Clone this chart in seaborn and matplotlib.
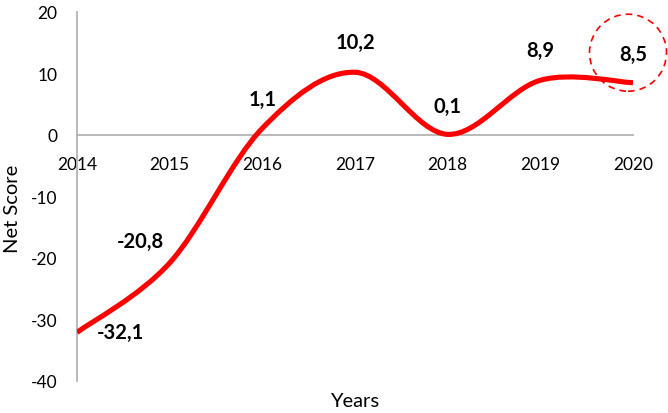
import numpy as np
import matplotlib
matplotlib.use("Agg")
import matplotlib.pyplot as plt
import matplotlib.transforms as mtransforms
from matplotlib.path import Path
from matplotlib.patches import PathPatch, Circle
import seaborn as sns

# data
years = [2014, 2015, 2016, 2017, 2018, 2019, 2020]
scores = [-32.1, -20.8, 1.1, 10.2, 0.1, 8.9, 8.5]
labels = ["-32,1", "-20,8", "1,1", "10,2", "0,1", "8,9", "8,5"]
# label offsets in points (dx, dy) from each point
offsets = [(31, 0), (-21, 16), (0.5, 21), (0, 22), (0, 20.5), (0, 22), (0, 21)]

sns.set_theme(style="white")
plt.rcParams['font.family'] = ['Lato', 'DejaVu Sans']
plt.rcParams['axes.unicode_minus'] = False

fig = plt.figure(figsize=(6.68, 4.14), dpi=100)
ax = fig.add_axes([0.1153, 0.0773, 0.8323, 0.8913])

# excel-like smoothed line: catmull-rom converted to bezier segments
pts = np.column_stack([years, scores]).astype(float)
n = len(pts)
verts = [pts[0]]
codes = [Path.MOVETO]
for i in range(n - 1):
    p_prev = pts[max(i - 1, 0)]
    p_next = pts[min(i + 2, n - 1)]
    c1 = pts[i] + (pts[i + 1] - p_prev) / 6
    c2 = pts[i + 1] - (p_next - pts[i]) / 6
    verts += [c1, c2, pts[i + 1]]
    codes += [Path.CURVE4] * 3
ax.add_patch(PathPatch(Path(verts, codes), fc="none", ec="#ff0000",
                       lw=3.7, capstyle="butt", zorder=3))

ax.set_xlim(2014, 2020)
ax.set_ylim(-40, 20)
ax.set_yticks(range(-40, 21, 10))
ax.set_xticks(years)
ax.set_xticklabels([str(y) for y in years])

sns.despine(ax=ax, top=True, right=True)
ax.spines["bottom"].set_position(("data", 0))
for s in ["left", "bottom"]:
    ax.spines[s].set_color("#b3b3b3")
    ax.spines[s].set_linewidth(1.3)
ax.tick_params(axis="x", length=0, pad=15, labelsize=12.5, colors="#000000")
ax.tick_params(axis="y", length=0, pad=14, labelsize=12.5, colors="#000000")

ax.set_xlabel("Years", fontsize=14.5, color="black")
ax.set_ylabel("Net Score", fontsize=14.5, color="black")
ax.xaxis.set_label_coords(0.5, -0.031)
ax.yaxis.set_label_coords(-0.101, 0.47)

for x, y, t, (dx, dy) in zip(years, scores, labels, offsets):
    ax.annotate(t, (x, y), xytext=(dx, dy), textcoords="offset points",
                ha="center", va="center", fontsize=14.5, fontweight="bold",
                color="black", annotation_clip=False)

# dashed highlight circle around the last value
trans = fig.dpi_scale_trans + mtransforms.ScaledTranslation(years[-1], scores[-1], ax.transData)
ax.add_patch(Circle((-0.05, 0.30), 0.385, transform=trans, fill=False,
                    ec="#ff0000", ls=(0, (4, 3)), lw=1.2, clip_on=False))

fig.savefig("out.png", dpi=100)
